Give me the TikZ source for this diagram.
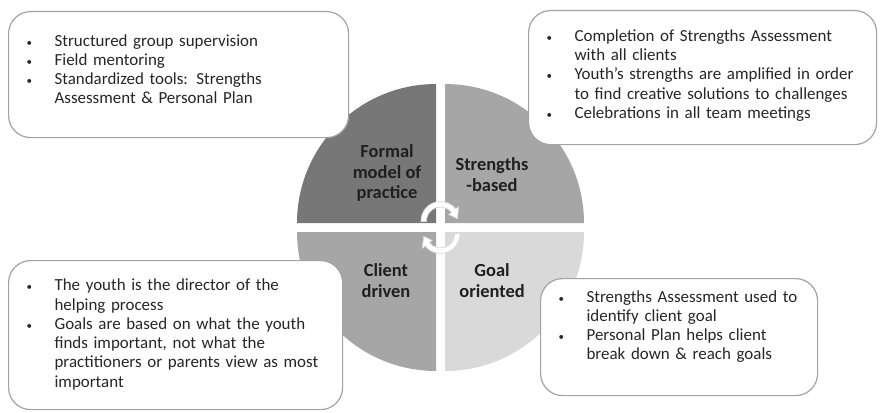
\documentclass[tikz,border=0pt]{standalone}
\usepackage{fontspec}
\setmainfont{Carlito}

% small bullet in a fixed-width column
\newcommand\bul{\makebox[28bp][l]{\fontsize{11}{11}\selectfont\textbullet}}

\definecolor{formalcol}{HTML}{777777}
\definecolor{strengthcol}{HTML}{A6A6A6}
\definecolor{clientcol}{HTML}{A6A6A6}
\definecolor{goalcol}{HTML}{D9D9D9}
\definecolor{edgecol}{HTML}{A3A3A3}

\begin{document}
\begin{tikzpicture}[x=1bp, y=1bp,
  quarter/.style = {font=\fontsize{18.5}{21}\selectfont\bfseries, text=black!88, align=center},
  note/.style = {draw=edgecol, line width=1.2bp, fill=white, rounded corners=22bp,
    anchor=north west, inner xsep=18bp, inner ysep=0pt, align=left,
    font=\fontsize{17}{19.3}\selectfont, text=black!85},
  arrowband/.style = {fill=white, draw=black!15, line width=0.7bp}]
\useasboundingbox (0,0) rectangle (881,412);

% the four quarters of the circle
\fill[formalcol] (436,189) -- (297,189) arc[start angle=180, end angle=90, radius=139] -- cycle;
\fill[strengthcol] (445,189) -- (584,189) arc[start angle=0, end angle=90, radius=139] -- cycle;
\fill[clientcol] (436,180) -- (297,180) arc[start angle=180, end angle=270, radius=139] -- cycle;
\fill[goalcol] (445,180) -- (584,180) arc[start angle=0, end angle=-90, radius=139] -- cycle;

\node[quarter] (formal) at (387,239) {Formal\\model of\\practice};
\node[quarter] (strengths) at (492,237) {Strengths\\-based};
\node[quarter] (client) at (386,131.5) {Client\\driven};
\node[quarter] (goal) at (492,131.5) {Goal\\oriented};

% circular arrows in the middle
\begin{scope}[shift={(440.5,191)}]
\filldraw[arrowband] (182:14) -- (182:19.5) arc[start angle=182, end angle=38, radius=19.5]
  -- (38:23) -- (8:17) -- (38:10.5) -- (38:14) arc[start angle=38, end angle=182, radius=14] -- cycle;
\end{scope}
\begin{scope}[shift={(440.5,178)}]
\filldraw[arrowband] (2:14) -- (2:19.5) arc[start angle=2, end angle=-142, radius=19.5]
  -- (218:23) -- (188:17) -- (218:10.5) -- (218:14) arc[start angle=-142, end angle=2, radius=14] -- cycle;
\end{scope}

% notes (the extra space after the last row lifts the text a little)
\node[note, text width=304bp, minimum height=126bp] (formalnote) at (8,401) {%
  \begin{tabular}{@{}l@{}l@{}}
  \bul & Structured group supervision\\
  \bul & Field mentoring\\
  \bul & Standardized tools: Strengths\\
       & Assessment \& Personal Plan\\[7bp]
  \end{tabular}};
\node[note, text width=312bp, minimum height=134bp] (strengthsnote) at (528,402) {%
  \begin{tabular}{@{}l@{}l@{}}
  \bul & Completion of Strengths Assessment\\
       & with all clients\\
  \bul & Youth’s strengths are amplified in order\\
       & to find creative solutions to challenges\\
  \bul & Celebrations in all team meetings\\[3bp]
  \end{tabular}};
\node[note, text width=298bp, minimum height=149bp] (clientnote) at (8,152) {%
  \begin{tabular}{@{}l@{}l@{}}
  \bul & The youth is the director of the\\
       & helping process\\
  \bul & Goals are based on what the youth\\
       & finds important, not what the\\
       & practitioners or parents view as most\\
       & important
  \end{tabular}};
\node[note, text width=241bp, minimum height=117bp] (goalnote) at (540,134) {%
  \begin{tabular}{@{}l@{}l@{}}
  \bul & Strengths Assessment used to\\
       & identify client goal\\
  \bul & Personal Plan helps client\\
       & break down \& reach goals\\[20bp]
  \end{tabular}};
\end{tikzpicture}
\end{document}
